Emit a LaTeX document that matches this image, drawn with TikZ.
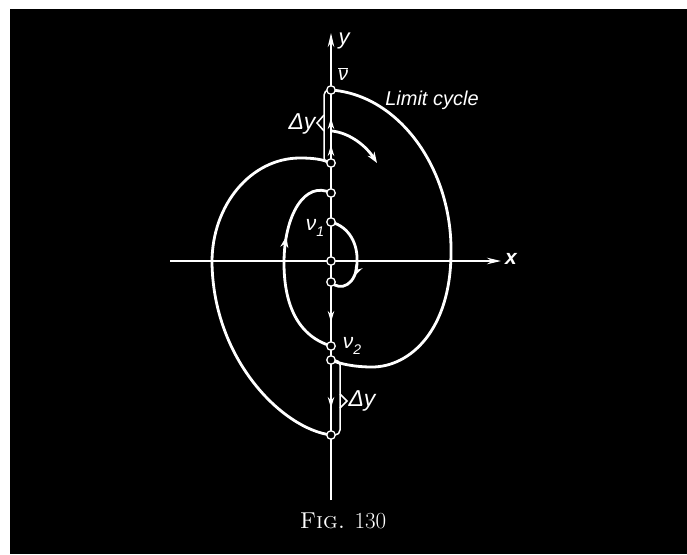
\documentclass[tikz,border=0pt]{standalone}
\usepackage{fontspec}
\newfontfamily\lab{Liberation Sans}
\usetikzlibrary{arrows.meta,decorations.markings}
\begin{document}
\begin{tikzpicture}[x=1pt,y=-1pt,
  dot/.style={circle,draw=white,fill=black,line width=1.3pt,minimum size=8.5pt,inner sep=0pt},
  traj/.style={white,line width=2.8pt},
  axisline/.style={white,line width=1.9pt,-{Stealth[length=14pt,width=6.5pt]}},
  dimline/.style={white,line width=1.5pt},
  axarrow/.style={white,line width=1.6pt,-{Stealth[length=11pt,width=6.5pt]}},
  lbl/.style={text=white,inner sep=0pt,font=\lab\itshape},
  midarrow/.style={postaction={decorate,decoration={markings,
     mark=at position #1 with {\arrow{Stealth[length=11pt,width=8pt]}}}}}]
\useasboundingbox (0,0) rectangle (687,554);
\fill[white] (0,0) rectangle (687,554);
\fill[black] (10,9) rectangle (687,554);

% points on the y axis
\coordinate (Pv) at (331,90);
\coordinate (P163) at (331,163);
\coordinate (P193) at (331,193);
\coordinate (Pn1) at (331,222);
\coordinate (O) at (331,261);
\coordinate (P282) at (331,282);
\coordinate (Pn2) at (331,346);
\coordinate (P360) at (331,360);
\coordinate (P435) at (331,435);
\coordinate (Ybot) at (331,500);
\coordinate (Ytop) at (331,33);
\coordinate (Xl) at (170,261);
\coordinate (Xr) at (501,261);

% axes
\draw[axisline] (Ybot) -- (Ytop);
\draw[axisline] (Xl) -- (Xr);

% limit cycle (right half)
\draw[traj] (Pv) .. controls (400,95) and (452,170) .. (451,252)
  .. controls (451,330) and (410,367) .. (372,367)
  .. controls (355,367) and (340,364) .. (P360);
% big left arc
\draw[traj] (P163) .. controls (322,159) and (312,158) .. (300,158)
  .. controls (251,158) and (212,205) .. (212,262)
  .. controls (213,360) and (283,429) .. (P435);
% inner left curve
\draw[traj,midarrow=0.64] (Pn2) .. controls (295,335) and (284,300) .. (284,263)
  .. controls (284,215) and (305,180) .. (P193);
% smallest curve
\draw[traj,midarrow=0.7] (Pn1) .. controls (350,227) and (358,245) .. (357,262)
  .. controls (357,285) and (340,292) .. (P282);
% short trajectory
\coordinate (S0) at (332,131);
\coordinate (S1) at (377,163);
\draw[traj,-{Stealth[length=11pt,width=8pt]}] (S0) .. controls (350,133) and (366,146) .. (S1);

% dimension lines
\draw[dimline,rounded corners=5pt] (Pv) -| (324,163) -- (P163);
\draw[dimline] (324,115) -- (317,123) -- (324,131);
\draw[dimline,rounded corners=5pt] (P360) -| (340,435) -- (P435);
\draw[dimline] (340,394) -- (347,401) -- (340,408);

% arrows along the y axis
\draw[axarrow] (331,132) -- (331,118);
\draw[axarrow] (331,158) -- (331,145);
\draw[axarrow] (331,308) -- (331,322);
\draw[axarrow] (331,394) -- (331,408);

% small circles
\foreach \p/\n in {Pv/dv,P163/d163,P193/d193,Pn1/dn1,O/dO,P282/d282,Pn2/dn2,P360/d360,P435/d435}
  \node[dot] (\n) at (\p) {};

% labels
\node[lbl,font=\lab\itshape\fontsize{22}{24}\selectfont] (ly) at (344,41) {y};
\node[lbl,font=\lab\itshape\bfseries\fontsize{21}{24}\selectfont] (lx) at (511,259) {x};
\node[lbl,font=\lab\itshape\fontsize{20}{24}\selectfont] (lv) at (343,74) {$\overline{\hbox{\lab\itshape ν}}$};
\node[lbl,font=\lab\itshape\fontsize{20}{24}\selectfont] (llc) at (432,100) {Limit cycle};
\node[lbl,font=\lab\itshape\fontsize{23}{26}\selectfont] (ldy1) at (302,124) {Δy};
\node[lbl,font=\lab\itshape\fontsize{23}{26}\selectfont] (ldy2) at (362,401) {Δy};
\node[lbl,font=\lab\itshape\fontsize{21}{24}\selectfont] (ln1) at (315,228) {ν\raisebox{-0.25em}{\fontsize{14}{16}\selectfont 1}};
\node[lbl,font=\lab\itshape\fontsize{21}{24}\selectfont] (ln2) at (352,346) {ν\raisebox{-0.25em}{\fontsize{14}{16}\selectfont 2}};
\node[text=white,inner sep=0pt,font=\rmfamily\fontsize{23}{26}\selectfont] (fig) at (343,521) {\textsc{Fig.} 130};
\end{tikzpicture}
\end{document}
